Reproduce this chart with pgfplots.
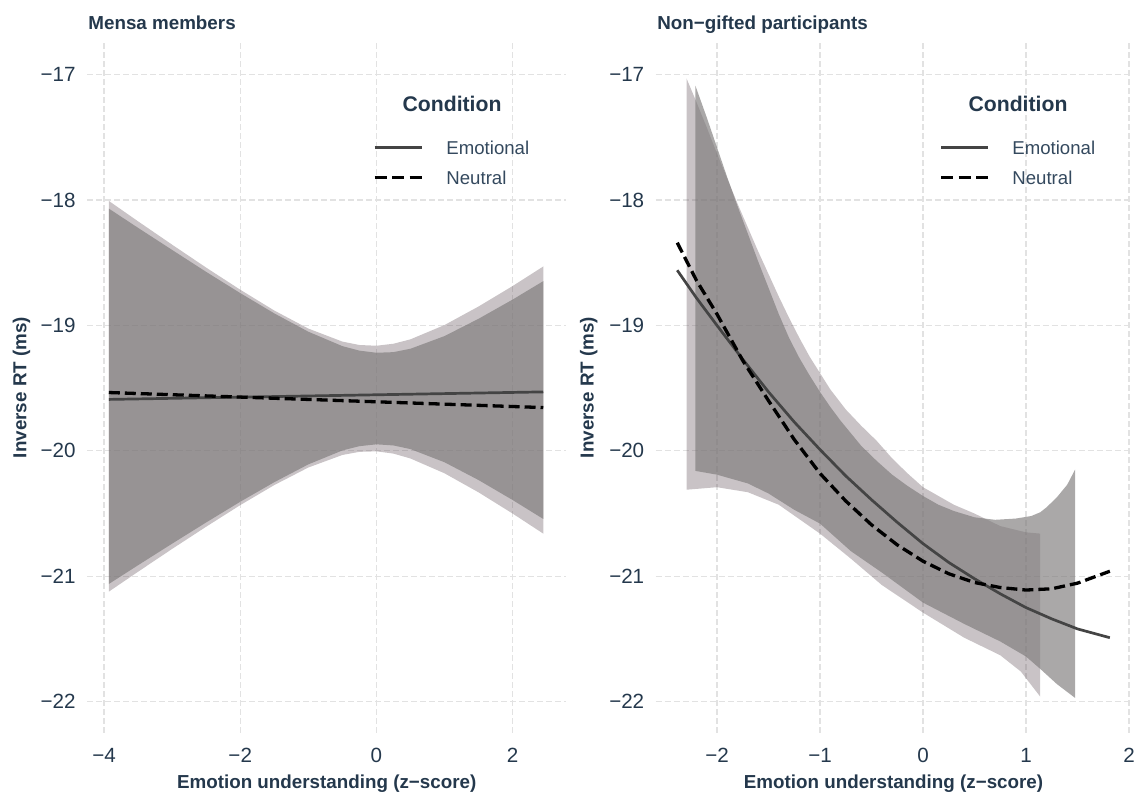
\documentclass[border=0pt]{standalone}
\usepackage{fontspec}
\setmainfont{Liberation Sans}
\usepackage{pgfplots}
\pgfplotsset{compat=1.18}
\definecolor{txt}{RGB}{36,56,76}
\definecolor{legtxt}{RGB}{52,73,94}
\definecolor{gridc}{RGB}{226,226,226}
\definecolor{pcol}{RGB}{100,84,92}
\definecolor{gcol}{RGB}{124,121,121}
\definecolor{emo}{RGB}{68,68,68}
\pgfplotsset{
  panel/.style={
    scale only axis, height=345.5pt,
    ymin=-22.25, ymax=-16.74,
    ytick={-22,-21,-20,-19,-18,-17},
    yticklabels={−22,−21,−20,−19,−18,−17},
    axis line style={draw=none},
    major tick length=0pt,
    grid=major,
    major grid style={gridc, line width=0.55pt, dash pattern=on 3pt off 1.5pt},
    tick label style={font=\fontsize{10.3}{12}\selectfont, text=txt},
    yticklabel style={anchor=east, inner sep=0pt, xshift=-5.5pt},
    xticklabel style={anchor=north, inner sep=0pt, yshift=-7.5pt},
    label style={font=\bfseries\fontsize{9.4}{11}\selectfont, text=txt, inner sep=0pt},
    xlabel={Emotion understanding (z−score)},
    ylabel={Inverse RT (ms)},
    xlabel style={at={(axis description cs:0.5,-0.0810)}, anchor=base},
    title style={anchor=base west, yshift=0pt, inner sep=0pt, font=\bfseries\fontsize{9.4}{11}\selectfont, text=txt},
  },
  ribP/.style={fill=pcol, fill opacity=0.35, draw=none, forget plot},
  ribG/.style={fill=gcol, fill opacity=0.65, draw=none, forget plot},
  emoline/.style={emo, line width=1.35pt, forget plot},
  neuline/.style={black, line width=1.65pt, dash pattern=on 5.5pt off 2.5pt, forget plot},
}
\newcommand{\condlegend}{%
  \draw[emo, line width=1.6pt] (rel axis cs:0.5998,0.8476) -- (rel axis cs:0.6985,0.8476);
  \draw[black, line width=1.6pt, dash pattern=on 6pt off 2.75pt] (rel axis cs:0.5998,0.8042) -- (rel axis cs:0.6985,0.8042);
  \node[anchor=base, inner sep=0pt, font=\bfseries\fontsize{10.6}{12}\selectfont, text=txt] at (rel axis cs:0.7615,0.8991) {Condition};
  \node[anchor=base west, inner sep=0pt, font=\fontsize{9.3}{11}\selectfont, text=legtxt] at (rel axis cs:0.749,0.8375) {Emotional};
  \node[anchor=base west, inner sep=0pt, font=\fontsize{9.3}{11}\selectfont, text=legtxt] at (rel axis cs:0.749,0.7941) {Neutral};
}
\begin{document}
\begin{tikzpicture}
\useasboundingbox (0,0) rectangle (568.5pt,-397pt);
% ---------------- Left panel: Mensa members ----------------
\begin{axis}[panel,
  at={(43.5pt,-366.5pt)}, anchor=south west,
  width=239.7pt,
  xmin=-4.25, xmax=2.79,
  xtick={-4,-2,0,2}, xticklabels={−4,−2,0,2},
  ylabel style={at={(axis description cs:-0.1262,0.5)}, anchor=base},
  title={Mensa members},
  title style={at={(axis description cs:0.0021,1.0003)}},
]
\addplot[ribP] coordinates {
 (-3.93,-18.007) (-3.5,-18.170) (-3,-18.356) (-2.5,-18.539) (-2,-18.715) (-1.5,-18.881)
 (-1,-19.025) (-0.5,-19.129) (-0.25,-19.156) (0,-19.162) (0.25,-19.146) (0.5,-19.111) (1,-18.997)
 (1.5,-18.849) (2,-18.686) (2.45,-18.530)
 (2.45,-20.660) (2,-20.500) (1.5,-20.331) (1,-20.179) (0.5,-20.061) (0.25,-20.022) (0,-20.004)
 (-0.25,-20.008) (-0.5,-20.033) (-1,-20.133) (-1.5,-20.273) (-2,-20.433) (-2.5,-20.605)
 (-3,-20.782) (-3.5,-20.964) (-3.93,-21.123)
} -- cycle;
\addplot[ribG] coordinates {
 (-3.93,-18.068) (-3.5,-18.222) (-3,-18.398) (-2.5,-18.573) (-2,-18.742) (-1.5,-18.904)
 (-1,-19.050) (-0.5,-19.165) (-0.25,-19.201) (0,-19.218) (0.25,-19.213) (0.5,-19.186) (1,-19.085)
 (1.5,-18.947) (2,-18.794) (2.45,-18.647)
 (2.45,-20.543) (2,-20.392) (1.5,-20.233) (1,-20.091) (0.5,-19.986) (0.25,-19.957) (0,-19.948)
 (-0.25,-19.963) (-0.5,-19.997) (-1,-20.108) (-1.5,-20.250) (-2,-20.406) (-2.5,-20.571)
 (-3,-20.740) (-3.5,-20.912) (-3.93,-21.062)
} -- cycle;
\addplot[emoline] coordinates {(-3.93,-19.59) (2.45,-19.53)};
\addplot[neuline] coordinates {(-3.93,-19.535) (2.45,-19.655)};
\condlegend
\end{axis}
% ---------------- Right panel: Non-gifted participants ----------------
\begin{axis}[panel,
  at={(327.8pt,-366.5pt)}, anchor=south west,
  width=237.95pt,
  xmin=-2.596, xmax=2.024,
  xtick={-2,-1,0,1,2}, xticklabels={−2,−1,0,1,2},
  ylabel style={at={(axis description cs:-0.1303,0.5)}, anchor=base},
  title={Non−gifted participants},
  title style={at={(axis description cs:0.0029,1.0003)}},
]
\addplot[ribP] coordinates {
 (-2.296,-17.03) (-2.209,-17.20) (-2.1,-17.42) (-2.0,-17.63) (-1.9,-17.83) (-1.8,-18.03)
 (-1.7,-18.22) (-1.6,-18.41) (-1.5,-18.59) (-1.4,-18.77) (-1.3,-18.94) (-1.2,-19.10)
 (-1.1,-19.25) (-1.0,-19.38) (-0.9,-19.51) (-0.75,-19.67) (-0.6,-19.80) (-0.45,-19.92)
 (-0.3,-20.06) (-0.15,-20.18) (0,-20.29) (0.15,-20.36) (0.3,-20.43) (0.5,-20.50)
 (0.75,-20.60) (1.0,-20.65) (1.138,-20.66)
 (1.138,-21.96) (0.95,-21.76) (0.75,-21.63) (0.4,-21.49) (0,-21.29) (-0.4,-21.07)
 (-0.7,-20.86) (-1.0,-20.66) (-1.4,-20.43) (-1.7,-20.33) (-2.0,-20.29) (-2.296,-20.31)
} -- cycle;
\addplot[ribG] coordinates {
 (-2.209,-17.09) (-2.1,-17.34) (-2.0,-17.58) (-1.9,-17.82) (-1.8,-18.05) (-1.7,-18.27)
 (-1.6,-18.49) (-1.5,-18.70) (-1.4,-18.91) (-1.3,-19.10) (-1.2,-19.26) (-1.1,-19.40)
 (-1.0,-19.53) (-0.9,-19.65) (-0.8,-19.76) (-0.7,-19.86) (-0.6,-19.96) (-0.45,-20.08)
 (-0.3,-20.19) (-0.15,-20.28) (0,-20.36) (0.15,-20.43) (0.3,-20.48) (0.5,-20.53)
 (0.7,-20.55) (0.9,-20.54) (1.05,-20.52) (1.138,-20.49) (1.2,-20.45) (1.3,-20.37) (1.4,-20.27) (1.476,-20.15)
 (1.476,-21.97) (1.3,-21.86) (1.14,-21.74) (1.0,-21.64) (0.75,-21.52) (0.4,-21.38)
 (0,-21.21) (-0.4,-20.97) (-0.7,-20.80) (-1.0,-20.58) (-1.25,-20.47) (-1.5,-20.34)
 (-1.7,-20.26) (-2.0,-20.19) (-2.209,-20.16)
} -- cycle;
\addplot[emoline] coordinates {
 (-2.386,-18.56) (-2.2,-18.78) (-2.0,-19.00) (-1.75,-19.27) (-1.5,-19.53) (-1.25,-19.77)
 (-1.0,-19.99) (-0.75,-20.20) (-0.5,-20.39) (-0.25,-20.57) (0,-20.74) (0.25,-20.89)
 (0.5,-21.02) (0.75,-21.14) (1.0,-21.25) (1.25,-21.34) (1.5,-21.42) (1.814,-21.49)
};
\addplot[neuline] coordinates {
 (-2.386,-18.34) (-2.2,-18.64) (-2.0,-18.91) (-1.75,-19.28) (-1.5,-19.60) (-1.25,-19.91)
 (-1.0,-20.18) (-0.75,-20.40) (-0.5,-20.59) (-0.25,-20.75) (0,-20.88) (0.25,-20.98)
 (0.5,-21.05) (0.75,-21.09) (1.0,-21.11) (1.25,-21.10) (1.5,-21.055) (1.814,-20.96)
};
\condlegend
\end{axis}
\end{tikzpicture}
\end{document}
